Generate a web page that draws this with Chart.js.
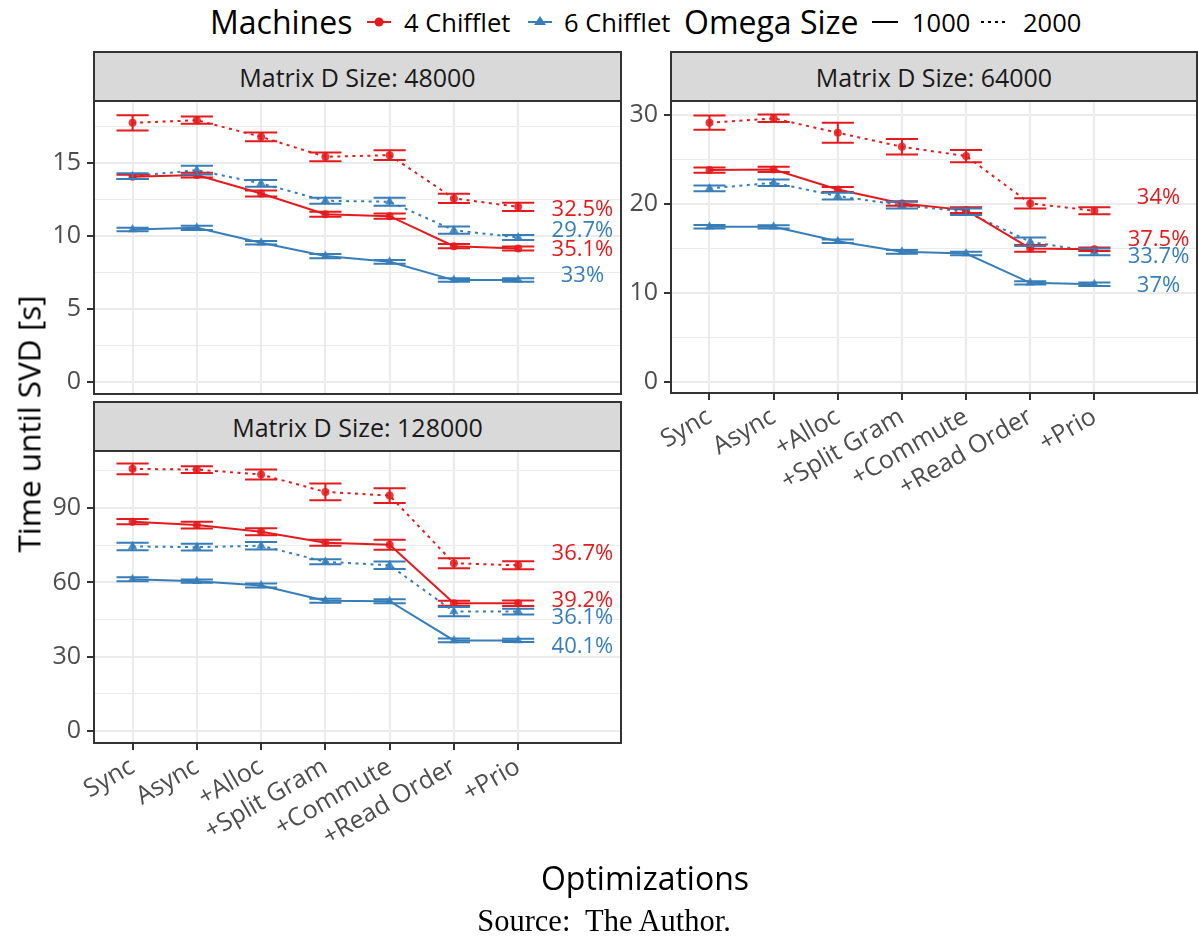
<!DOCTYPE html>
<html>
<head>
<meta charset="utf-8">
<script src="https://cdn.jsdelivr.net/npm/chart.js@4.4.1/dist/chart.umd.min.js"></script>
<style>
  body { margin: 0; width: 1198px; height: 941px; background: #fff; position: relative; overflow: hidden; font-family: "Open Sans", sans-serif; }
  canvas { position: absolute; }
  .strip { position: absolute; background: #D9D9D9; border: 2px solid #333; box-sizing: border-box; color: #1A1A1A; font-size: 25px; display: flex; align-items: center; justify-content: center; }
  .lg { position: absolute; top: 0; height: 44px; line-height: 44px; white-space: nowrap; color: #000; }
  .lg.title { font-size: 32px; }
  .lg.item { font-size: 25.5px; }
  .lg svg { position: absolute; top: 0; }
</style>
</head>
<body>

<div class="lg title" style="left:210px">Machines</div>
<div class="lg" style="left:366px;width:26px"><svg width="26" height="44"><line x1="1" y1="22" x2="25" y2="22" stroke="#E41A1C" stroke-width="2"/><circle cx="13" cy="22" r="4.5" fill="#E41A1C"/></svg></div>
<div class="lg item" style="left:404px">4 Chifflet</div>
<div class="lg" style="left:527px;width:26px"><svg width="26" height="44"><line x1="1" y1="22" x2="25" y2="22" stroke="#377EB8" stroke-width="2"/><polygon points="13,16 19,25 7,25" fill="#377EB8"/></svg></div>
<div class="lg item" style="left:564px">6 Chifflet</div>
<div class="lg title" style="left:684px">Omega Size</div>
<div class="lg" style="left:871px;width:28px"><svg width="28" height="44"><line x1="1" y1="22" x2="27" y2="22" stroke="#000" stroke-width="2"/></svg></div>
<div class="lg item" style="left:912px">1000</div>
<div class="lg" style="left:980px;width:28px"><svg width="28" height="44"><line x1="1" y1="22" x2="27" y2="22" stroke="#000" stroke-width="2" stroke-dasharray="3 4"/></svg></div>
<div class="lg item" style="left:1023px">2000</div>

<div class="strip" id="strip1">Matrix D Size: 48000</div>
<div class="strip" id="strip2">Matrix D Size: 64000</div>
<div class="strip" id="strip3">Matrix D Size: 128000</div>

<canvas id="c48"></canvas>
<canvas id="c64"></canvas>
<canvas id="c128"></canvas>

<div style="position:absolute;left:28px;top:424px;transform:translate(-50%,-50%) rotate(-90deg);font-size:31.5px;white-space:nowrap;color:#000">Time until SVD [s]</div>
<div style="position:absolute;left:645px;top:877px;transform:translate(-50%,-50%);font-size:32px;white-space:nowrap;color:#000">Optimizations</div>
<div style="position:absolute;left:604px;top:921px;transform:translate(-50%,-50%);font-family:'Liberation Serif',serif;font-size:30.5px;white-space:nowrap;color:#000">Source:&nbsp; The Author.</div>

<script>
const categories = ['Sync', 'Async', '+Alloc', '+Split Gram', '+Commute', '+Read Order', '+Prio'];
const machines = ['4 Chifflet', '6 Chifflet'];
const omegaSizes = ['1000', '2000'];

// Matrix D Size: 48000
const m48_c4_o1000 = [14.07, 14.19, 12.93, 11.51, 11.37, 9.31, 9.15];
const m48_c4_o1000_err = [0.15, 0.16, 0.2, 0.17, 0.18, 0.15, 0.14];
const m48_c4_o2000 = [17.78, 17.96, 16.82, 15.45, 15.56, 12.59, 12.01];
const m48_c4_o2000_err = [0.52, 0.25, 0.3, 0.3, 0.34, 0.32, 0.28];
const m48_c6_o1000 = [10.46, 10.57, 9.54, 8.63, 8.24, 6.98, 6.98];
const m48_c6_o1000_err = [0.12, 0.15, 0.12, 0.14, 0.13, 0.12, 0.12];
const m48_c6_o2000 = [14.12, 14.53, 13.62, 12.43, 12.36, 10.41, 9.91];
const m48_c6_o2000_err = [0.2, 0.3, 0.23, 0.2, 0.27, 0.25, 0.17];
const m48_ticks = [0, 5, 10, 15];
const m48_pct = ['32.5%', '29.7%', '35.1%', '33%'];
const m48_pctY = [11.8, 10.35, 9.05, 7.26];
const m48_pctMachine = ['4 Chifflet', '6 Chifflet', '4 Chifflet', '6 Chifflet'];

// Matrix D Size: 64000
const m64_c4_o1000 = [23.81, 23.88, 21.63, 20.06, 19.31, 15.0, 14.92];
const m64_c4_o1000_err = [0.3, 0.3, 0.28, 0.25, 0.33, 0.38, 0.2];
const m64_c4_o2000 = [29.13, 29.62, 28.0, 26.43, 25.38, 20.06, 19.24];
const m64_c4_o2000_err = [0.8, 0.42, 1.12, 0.88, 0.68, 0.58, 0.4];
const m64_c6_o1000 = [17.43, 17.43, 15.82, 14.62, 14.43, 11.14, 10.99];
const m64_c6_o1000_err = [0.2, 0.18, 0.2, 0.2, 0.2, 0.18, 0.2];
const m64_c6_o2000 = [21.75, 22.38, 20.88, 19.87, 19.12, 15.75, 14.62];
const m64_c6_o2000_err = [0.32, 0.37, 0.37, 0.37, 0.37, 0.47, 0.37];
const m64_ticks = [0, 10, 20, 30];
const m64_pct = ['34%', '37.5%', '33.7%', '37%'];
const m64_pctY = [20.67, 15.96, 14.04, 10.79];
const m64_pctMachine = ['4 Chifflet', '4 Chifflet', '6 Chifflet', '6 Chifflet'];

// Matrix D Size: 128000
const m128_c4_o1000 = [84.5, 83.1, 80.4, 76.0, 75.2, 51.6, 51.6];
const m128_c4_o1000_err = [1.1, 1.35, 1.4, 1.2, 2.0, 1.0, 1.1];
const m128_c4_o2000 = [105.8, 105.5, 103.5, 96.5, 95.0, 67.7, 66.9];
const m128_c4_o2000_err = [2.2, 1.35, 2.0, 3.35, 3.0, 2.05, 1.65];
const m128_c6_o1000 = [61.3, 60.5, 58.7, 52.6, 52.4, 36.6, 36.6];
const m128_c6_o1000_err = [0.8, 0.7, 0.8, 0.8, 0.8, 0.8, 0.7];
const m128_c6_o2000 = [74.5, 74.2, 74.8, 68.3, 66.9, 48.2, 48.2];
const m128_c6_o2000_err = [1.5, 1.35, 1.5, 1.0, 1.55, 1.9, 1.2];
const m128_ticks = [0, 30, 60, 90];
const m128_pct = ['36.7%', '39.2%', '36.1%', '40.1%'];
const m128_pctY = [71.4, 52.5, 45.6, 33.9];
const m128_pctMachine = ['4 Chifflet', '4 Chifflet', '6 Chifflet', '6 Chifflet'];

const machineColor = { '4 Chifflet': '#E41A1C', '6 Chifflet': '#377EB8' };
const machineAlpha = { '4 Chifflet': 'rgba(228,26,28,0.85)', '6 Chifflet': 'rgba(55,126,184,0.85)' };
const FONT = '"Open Sans", sans-serif';

function series(machine, omega, values, errors) {
  const col = machineColor[machine];
  return {
    label: machine + ' / ' + omega,
    data: values.map((v, i) => ({ x: i + 1, y: v })),
    errors: errors,
    borderColor: col,
    backgroundColor: machineAlpha[machine],
    borderWidth: 2,
    borderDash: omega === '2000' ? [3, 4.5] : [],
    pointStyle: machine === '4 Chifflet' ? 'circle' : 'triangle',
    pointRadius: machine === '4 Chifflet' ? 4 : 5.5,
    pointBorderWidth: 0,
    pointBackgroundColor: machineAlpha[machine],
    tension: 0,
    fill: false
  };
}

function makePanel(id, stripId, box, yMin, yMax, ticks, datasets, pct, pctY, pctMachine, showX) {
  const PADL = 100, PADT = 30, PADR = 30, XH = showX ? 130 : 30;
  const cv = document.getElementById(id);
  const W = PADL + box.w + PADR, H = PADT + box.h + XH;
  cv.width = W; cv.height = H;
  cv.style.left = (box.x - PADL) + 'px';
  cv.style.top = (box.y - PADT) + 'px';
  cv.style.width = W + 'px'; cv.style.height = H + 'px';

  const st = document.getElementById(stripId);
  st.style.left = (box.x - 1) + 'px';
  st.style.width = (box.w + 2) + 'px';
  st.style.top = box.stripTop + 'px';
  st.style.height = (box.y - box.stripTop + 1) + 'px';

  const step = ticks[1] - ticks[0];
  const yTickList = [];
  ticks.forEach(t => {
    yTickList.push({ value: t });
    if (t + step / 2 <= yMax) yTickList.push({ value: t + step / 2, minor: true });
  });

  const decor = {
    id: 'decor' + id,
    afterDatasetsDraw(chart) {
      const ctx = chart.ctx, xs = chart.scales.x, ys = chart.scales.y;
      chart.data.datasets.forEach(ds => {
        ctx.save();
        ctx.strokeStyle = ds.borderColor;
        ctx.lineWidth = 2;
        ctx.setLineDash([]);
        ds.data.forEach((p, j) => {
          const e = ds.errors[j];
          const x = xs.getPixelForValue(p.x);
          const x0 = xs.getPixelForValue(p.x - 0.25), x1 = xs.getPixelForValue(p.x + 0.25);
          const yl = ys.getPixelForValue(p.y - e), yh = ys.getPixelForValue(p.y + e);
          ctx.beginPath();
          ctx.moveTo(x0, yh); ctx.lineTo(x1, yh);
          ctx.moveTo(x, yh); ctx.lineTo(x, yl);
          ctx.moveTo(x0, yl); ctx.lineTo(x1, yl);
          ctx.stroke();
        });
        ctx.restore();
      });
      ctx.save();
      ctx.font = '22px ' + FONT;
      ctx.textAlign = 'center';
      ctx.textBaseline = 'middle';
      pct.forEach((t, i) => {
        ctx.fillStyle = machineColor[pctMachine[i]];
        ctx.fillText(t, xs.getPixelForValue(8), ys.getPixelForValue(pctY[i]));
      });
      ctx.restore();
    },
    afterDraw(chart) {
      const a = chart.chartArea, ctx = chart.ctx;
      ctx.save();
      ctx.strokeStyle = '#333333';
      ctx.lineWidth = 2;
      ctx.strokeRect(a.left, a.top, a.right - a.left, a.bottom - a.top);
      ctx.restore();
    }
  };

  return new Chart(cv, {
    type: 'line',
    data: { datasets: datasets },
    plugins: [decor],
    options: {
      responsive: false,
      animation: false,
      layout: { padding: { left: 0, top: PADT, right: PADR, bottom: 0 } },
      plugins: { legend: { display: false }, tooltip: { enabled: false } },
      scales: {
        x: {
          type: 'linear', min: 0.4, max: 8.6,
          afterBuildTicks: s => { s.ticks = categories.map((c, i) => ({ value: i + 1 })); },
          afterFit: s => { s.height = XH; },
          border: { display: false },
          grid: { color: '#EBEBEB', lineWidth: 2, drawTicks: showX, tickLength: 7, tickColor: '#333333', tickWidth: 2 },
          ticks: {
            display: showX, autoSkip: false, minRotation: 30, maxRotation: 30, padding: 2,
            color: '#4D4D4D', font: { family: FONT, size: 25 },
            callback: v => categories[v - 1]
          }
        },
        y: {
          type: 'linear', min: yMin, max: yMax,
          afterBuildTicks: s => { s.ticks = yTickList.map(t => Object.assign({}, t)); },
          afterFit: s => { s.width = PADL; },
          border: { display: false },
          grid: {
            color: '#EBEBEB',
            lineWidth: c => (c.tick && c.tick.minor) ? 1 : 2,
            tickLength: 7,
            tickColor: c => (c.tick && c.tick.minor) ? 'rgba(0,0,0,0)' : '#333333',
            tickWidth: 2
          },
          ticks: {
            autoSkip: false, padding: 6, color: '#4D4D4D', font: { family: FONT, size: 25 },
            callback: v => ticks.includes(v) ? String(v) : ''
          }
        }
      }
    }
  });
}

function panelSeries(c4o1, c4o1e, c4o2, c4o2e, c6o1, c6o1e, c6o2, c6o2e) {
  return [
    series('4 Chifflet', '1000', c4o1, c4o1e),
    series('4 Chifflet', '2000', c4o2, c4o2e),
    series('6 Chifflet', '1000', c6o1, c6o1e),
    series('6 Chifflet', '2000', c6o2, c6o2e)
  ];
}

makePanel('c48', 'strip1', { x: 94, y: 101, w: 527, h: 293, stripTop: 51 }, -0.84, 19.28, m48_ticks,
  panelSeries(m48_c4_o1000, m48_c4_o1000_err, m48_c4_o2000, m48_c4_o2000_err,
              m48_c6_o1000, m48_c6_o1000_err, m48_c6_o2000, m48_c6_o2000_err),
  m48_pct, m48_pctY, m48_pctMachine, false);

makePanel('c64', 'strip2', { x: 671, y: 101, w: 526, h: 292, stripTop: 51 }, -1.24, 31.57, m64_ticks,
  panelSeries(m64_c4_o1000, m64_c4_o1000_err, m64_c4_o2000, m64_c4_o2000_err,
              m64_c6_o1000, m64_c6_o1000_err, m64_c6_o2000, m64_c6_o2000_err),
  m64_pct, m64_pctY, m64_pctMachine, true);

makePanel('c128', 'strip3', { x: 94, y: 451, w: 527, h: 292, stripTop: 401 }, -4.8, 113.0, m128_ticks,
  panelSeries(m128_c4_o1000, m128_c4_o1000_err, m128_c4_o2000, m128_c4_o2000_err,
              m128_c6_o1000, m128_c6_o1000_err, m128_c6_o2000, m128_c6_o2000_err),
  m128_pct, m128_pctY, m128_pctMachine, true);
</script>
</body>
</html>
